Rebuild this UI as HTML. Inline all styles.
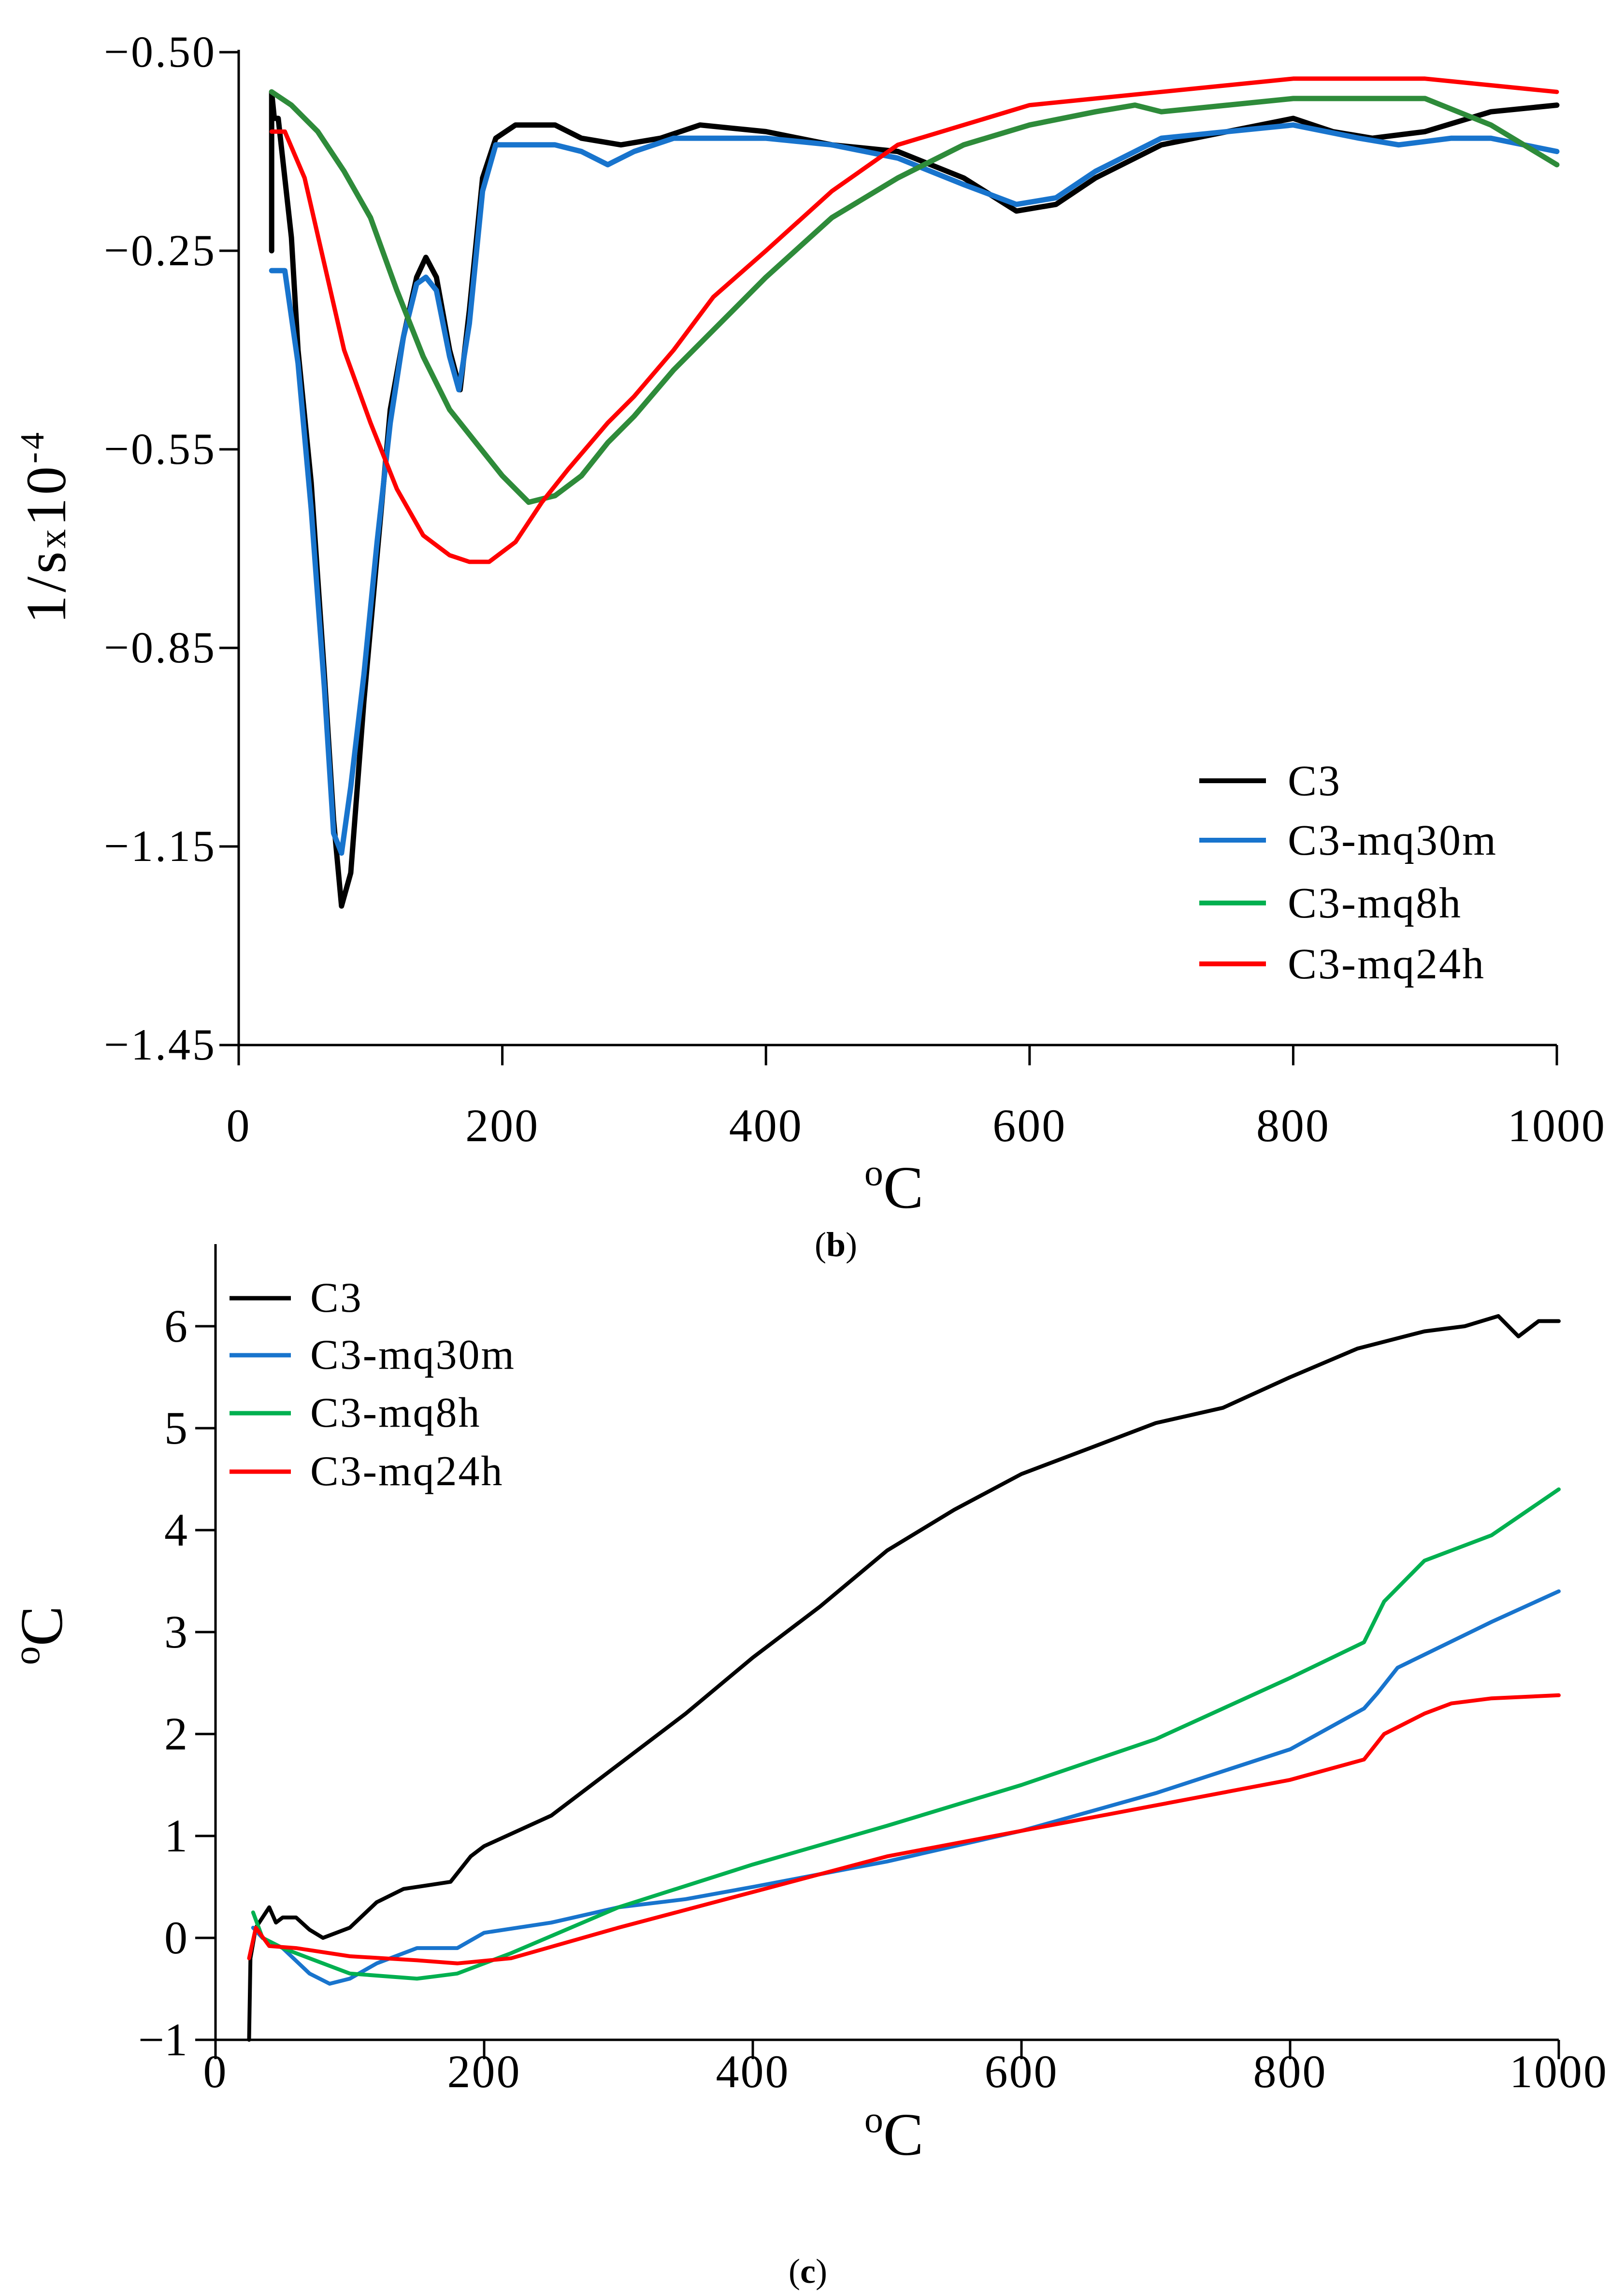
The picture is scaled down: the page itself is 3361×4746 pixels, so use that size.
<!DOCTYPE html>
<html><head><meta charset="utf-8"><style>
html,body{margin:0;padding:0;background:#fff;}
svg{display:block;font-family:"Liberation Serif",serif;}
</style></head><body>
<svg id="fig" width="3361" height="4746" viewBox="0 0 3361 4746" xmlns="http://www.w3.org/2000/svg">
<g id="chartB"></g>
<g id="chartC"></g>
<text x="1730" y="2600" font-size="72" text-anchor="middle">(<tspan font-weight="bold">b</tspan>)</text>
<text x="1672" y="4725" font-size="72" text-anchor="middle">(<tspan font-weight="bold">c</tspan>)</text>
</svg>
<script>
// ---------- Chart (b) data ----------
const bTickLabels = ["−0.50","−0.25","−0.55","−0.85","−1.15","−1.45"];
const bTickValues = [0.05,-0.25,-0.55,-0.85,-1.15,-1.45];
const bXTicks = [0,200,400,600,800,1000];
const bSeriesNames = ["C3","C3-mq30m","C3-mq8h","C3-mq24h"];
const bC3x = [25,25,27,30,40,45,55,65,72,78,85,95,105,115,125,135,142,150,160,168,175,185,195,210,240,260,290,320,350,400,450,500,550,590,620,650,700,750,800,830,860,900,950,1000];
const bC3y = [-0.25,-0.01,-0.05,-0.05,-0.23,-0.40,-0.60,-0.89,-1.11,-1.24,-1.19,-0.93,-0.71,-0.49,-0.38,-0.29,-0.26,-0.29,-0.40,-0.46,-0.34,-0.14,-0.08,-0.06,-0.06,-0.08,-0.09,-0.08,-0.06,-0.07,-0.09,-0.10,-0.14,-0.19,-0.18,-0.14,-0.09,-0.07,-0.05,-0.07,-0.08,-0.07,-0.04,-0.03];
const bM30x = [25,35,45,55,65,72,78,85,95,105,115,125,135,142,150,160,167,175,185,195,210,240,260,280,300,330,360,400,450,500,550,590,620,650,700,750,800,850,880,920,950,1000];
const bM30y = [-0.28,-0.28,-0.42,-0.64,-0.91,-1.13,-1.16,-1.06,-0.89,-0.69,-0.51,-0.38,-0.30,-0.29,-0.31,-0.41,-0.46,-0.36,-0.16,-0.09,-0.09,-0.09,-0.10,-0.12,-0.10,-0.08,-0.08,-0.08,-0.09,-0.11,-0.15,-0.18,-0.17,-0.13,-0.08,-0.07,-0.06,-0.08,-0.09,-0.08,-0.08,-0.10];
const bM8x = [25,40,60,80,100,120,140,160,180,200,220,240,260,280,300,330,360,400,450,500,550,600,650,680,700,750,800,850,900,950,1000];
const bM8y = [-0.01,-0.03,-0.07,-0.13,-0.20,-0.31,-0.41,-0.49,-0.54,-0.59,-0.63,-0.62,-0.59,-0.54,-0.50,-0.43,-0.37,-0.29,-0.20,-0.14,-0.09,-0.06,-0.04,-0.03,-0.04,-0.03,-0.02,-0.02,-0.02,-0.06,-0.12];
const bM24x = [25,35,50,65,80,100,120,140,160,175,190,210,230,250,280,300,330,360,400,450,500,550,600,650,700,750,800,850,900,950,1000];
const bM24y = [-0.07,-0.07,-0.14,-0.27,-0.40,-0.51,-0.61,-0.68,-0.71,-0.72,-0.72,-0.69,-0.63,-0.58,-0.51,-0.47,-0.40,-0.32,-0.25,-0.16,-0.09,-0.06,-0.03,-0.02,-0.01,0.00,0.01,0.01,0.01,0.00,-0.01];

// ---------- Chart (c) data ----------
const cYTicks = [6,5,4,3,2,1,0,-1];
const cXTicks = [0,200,400,600,800,1000];
const cC3x = [25,26,30,35,40,45,50,60,70,80,100,120,140,160,175,190,200,250,300,350,400,450,500,550,600,650,700,750,800,850,900,930,955,970,985,1000];
const cC3y = [-1,-0.2,0.1,0.2,0.3,0.15,0.2,0.2,0.08,0,0.1,0.35,0.48,0.52,0.55,0.8,0.9,1.2,1.7,2.2,2.75,3.25,3.8,4.2,4.55,4.8,5.05,5.2,5.5,5.78,5.95,6.0,6.1,5.9,6.05,6.05];
const cM30x = [28,35,50,70,85,100,120,150,180,200,250,300,350,400,500,600,700,800,855,865,880,950,1000];
const cM30y = [0.1,0,-0.1,-0.35,-0.45,-0.4,-0.25,-0.1,-0.1,0.05,0.15,0.3,0.38,0.5,0.75,1.05,1.42,1.85,2.25,2.4,2.65,3.1,3.4];
const cM8x = [28,35,50,80,100,150,180,220,300,400,500,600,700,800,855,870,900,950,1000];
const cM8y = [0.25,0,-0.1,-0.25,-0.35,-0.4,-0.35,-0.15,0.3,0.72,1.1,1.5,1.95,2.55,2.9,3.3,3.7,3.95,4.4];
const cM24x = [25,30,40,60,100,150,180,220,300,400,500,600,700,800,855,870,900,920,950,1000];
const cM24y = [-0.2,0.1,-0.08,-0.1,-0.18,-0.22,-0.25,-0.2,0.1,0.45,0.8,1.05,1.3,1.55,1.75,2.0,2.2,2.3,2.35,2.38];

const colors = ["#000000","#1874cd","#00b050","#ff0000"];
const NS = "http://www.w3.org/2000/svg";
function mk(parent, tag, attrs){const e=document.createElementNS(NS,tag);for(const k in attrs)e.setAttribute(k,attrs[k]);parent.appendChild(e);return e;}

// axis functions
const bX = v => 494 + v*2.728;
const bY = v => 2163 - (v + 1.45)/0.3*411;
const cX = v => 446 + v*2.78;
const cY = v => 4011 - v*211;

function poly(parent, xs, ys, fx, fy, color, name, w){
  const pts = xs.map((x,i)=>fx(x).toFixed(1)+","+fy(ys[i]).toFixed(1)).join(" ");
  const p = mk(parent,"polyline",{points:pts,fill:"none",stroke:color,"stroke-width":w,"stroke-linejoin":"round","stroke-linecap":"round"});
  
  
}

// ----- Chart b -----
const gb = document.getElementById("chartB");
let a = mk(gb,"line",{x1:bX(0),y1:bY(0.05)-5,x2:bX(0),y2:bY(-1.45)+40,stroke:"#000","stroke-width":5});


a = mk(gb,"line",{x1:bX(0),y1:bY(-1.45),x2:bX(1000),y2:bY(-1.45),stroke:"#000","stroke-width":5});


bTickValues.forEach((v,i)=>{
  const t = mk(gb,"line",{x1:bX(0)-40,y1:bY(v),x2:bX(0),y2:bY(v),stroke:"#000","stroke-width":5});
  
  
  const l = mk(gb,"text",{x:448,y:bY(v)+30,"font-size":92,"text-anchor":"end","letter-spacing":"4"});
  l.textContent = bTickLabels[i];
  
  
});
bXTicks.forEach(v=>{
  const t = mk(gb,"line",{x1:bX(v),y1:bY(-1.45),x2:bX(v),y2:bY(-1.45)+42,stroke:"#000","stroke-width":5});
  
  
  const l = mk(gb,"text",{x:bX(v),y:2362,"font-size":96,"text-anchor":"middle","letter-spacing":"3"});
  l.textContent = v;
  
  
});
let tt = mk(gb,"text",{x:1850,y:2500,"font-size":125,"text-anchor":"middle"});
tt.innerHTML = '<tspan font-size="78" dy="-47">o</tspan><tspan dy="47">C</tspan>';


tt = mk(gb,"text",{x:0,y:0,"font-size":118,"text-anchor":"middle","letter-spacing":"6",transform:"translate(135,1090) rotate(-90)"});
tt.innerHTML = '1/s<tspan font-size="80">x</tspan>10<tspan font-size="70" dy="-45">-4</tspan>';


poly(gb,bC3x,bC3y,bX,bY,colors[0],"series-c3-b",11);
poly(gb,bM30x,bM30y,bX,bY,colors[1],"series-c3-mq30m-b",11);
poly(gb,bM8x,bM8y,bX,bY,"#2e8b3a","series-c3-mq8h-b",11);
poly(gb,bM24x,bM24y,bX,bY,colors[3],"series-c3-mq24h-b",9);
const bLegY=[1616,1739,1869,1995];
bSeriesNames.forEach((n,i)=>{
  const l = mk(gb,"line",{x1:2482,y1:bLegY[i],x2:2620,y2:bLegY[i],stroke:colors[i],"stroke-width":10});
  
  
  const t = mk(gb,"text",{x:2665,y:bLegY[i]+30,"font-size":90,"letter-spacing":"3"});
  t.textContent = n;
  
  
});

// ----- Chart c -----
const gc = document.getElementById("chartC");
a = mk(gc,"line",{x1:cX(0),y1:2575,x2:cX(0),y2:cY(-1)+40,stroke:"#000","stroke-width":5});


a = mk(gc,"line",{x1:cX(0)-40,y1:cY(-1),x2:cX(1000),y2:cY(-1),stroke:"#000","stroke-width":5});


cYTicks.forEach(v=>{
  const t = mk(gc,"line",{x1:cX(0)-42,y1:cY(v),x2:cX(0),y2:cY(v),stroke:"#000","stroke-width":5});
  
  
  const l = mk(gc,"text",{x:388,y:cY(v)+32,"font-size":96,"text-anchor":"end"});
  l.textContent = v<0 ? "−"+Math.abs(v) : v;
  
  
});
cXTicks.forEach(v=>{
  const t = mk(gc,"line",{x1:cX(v),y1:cY(-1),x2:cX(v),y2:cY(-1)+40,stroke:"#000","stroke-width":5});
  
  
  const l = mk(gc,"text",{x:cX(v),y:4320,"font-size":96,"text-anchor":"middle","letter-spacing":"3"});
  l.textContent = v;
  
  
});
tt = mk(gc,"text",{x:1850,y:4460,"font-size":125,"text-anchor":"middle"});
tt.innerHTML = '<tspan font-size="78" dy="-47">o</tspan><tspan dy="47">C</tspan>';


tt = mk(gc,"text",{x:0,y:0,"font-size":125,"text-anchor":"middle",transform:"translate(128,3385) rotate(-90)"});
tt.innerHTML = '<tspan font-size="78" dy="-47">o</tspan><tspan dy="47">C</tspan>';


poly(gc,cC3x,cC3y,cX,cY,colors[0],"series-c3-c",8);
poly(gc,cM30x,cM30y,cX,cY,colors[1],"series-c3-mq30m-c",8);
poly(gc,cM8x,cM8y,cX,cY,colors[2],"series-c3-mq8h-c",8);
poly(gc,cM24x,cM24y,cX,cY,colors[3],"series-c3-mq24h-c",8);
const cLegY=[2687,2805,2925,3046];
bSeriesNames.forEach((n,i)=>{
  const l = mk(gc,"line",{x1:475,y1:cLegY[i],x2:602,y2:cLegY[i],stroke:colors[i],"stroke-width":9});
  
  
  const t = mk(gc,"text",{x:642,y:cLegY[i]+28,"font-size":88,"letter-spacing":"3"});
  t.textContent = n;
  
  
});
</script>
</body></html>
